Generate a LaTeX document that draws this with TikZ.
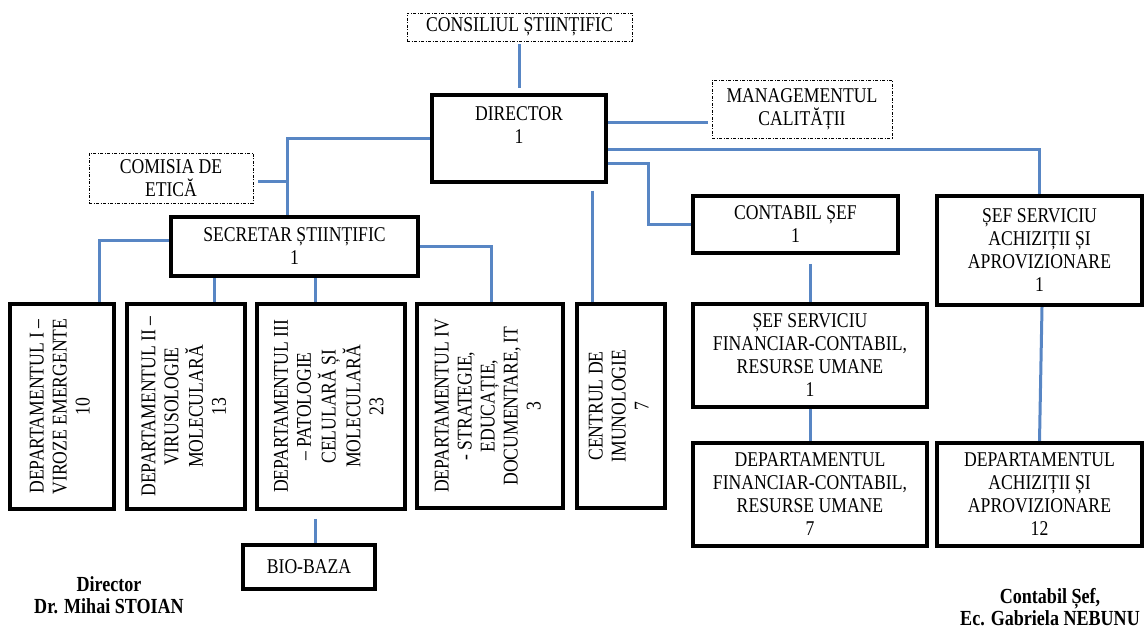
\documentclass[tikz,border=0pt]{standalone}
\usepackage{fontspec}
\usepackage{graphicx}
\setmainfont{Liberation Serif}[FakeStretch=0.84]
\usetikzlibrary{backgrounds}
\definecolor{connblue}{RGB}{88,134,196}
\newcommand{\rt}[1]{\rotatebox{90}{\begin{tabular}{@{}c@{}}#1\end{tabular}}}
\begin{document}
\begin{tikzpicture}[x=1pt,y=-1pt,
  boxfont/.style={font=\fontsize{21}{23}\selectfont},
  rotfont/.style={font=\fontsize{21}{23}\selectfont},
  orgbox/.style={draw=black,line width=3.5pt,fill=white,align=center,inner sep=1pt,boxfont},
  rotbox/.style={draw=black,line width=3.5pt,fill=white,inner sep=1pt,rotfont},
  dashbox/.style={draw=black,line width=0.9pt,fill=white,align=center,inner sep=1pt,boxfont,
    dash pattern=on 3pt off 1.5pt on 1pt off 1.5pt},
  conn/.style={draw=connblue,line width=3pt},
  signtext/.style={align=center,font=\fontsize{21.5}{22}\selectfont\bfseries,inner sep=0pt}]
\useasboundingbox (0,0) rectangle (1145,631);

% nodes
\node[dashbox,minimum width=225,minimum height=28] (cons) at (519.5,27) {CONSILIUL ȘTIINȚIFIC};
\node[orgbox,minimum width=174,minimum height=87] (dir) at (519,138.5) {\strut DIRECTOR\\\strut 1\\\strut};
\node[dashbox,minimum width=180,minimum height=58] (mgmt) at (802,109) {MANAGEMENTUL\\CALITĂȚII};
\node[dashbox,minimum width=164,minimum height=50] (com) at (171,178) {COMISIA DE\\ETICĂ};
\node[orgbox,minimum width=247,minimum height=59] (sec) at (294.5,246.5) {SECRETAR ȘTIINȚIFIC\\1};
\node[orgbox,minimum width=205,minimum height=57] (cont) at (795.5,224.5) {CONTABIL ȘEF\\1};
\node[orgbox,minimum width=205,minimum height=109] (ach) at (1039.5,250.5) {ȘEF SERVICIU\\ACHIZIȚII ȘI\\APROVIZIONARE\\1};
\node[rotbox,minimum width=104,minimum height=205] (d1) at (62,406.5) {\rt{DEPARTAMENTUL I –\\VIROZE EMERGENTE\\10}};
\node[rotbox,minimum width=118,minimum height=205] (d2) at (186,406.5) {\rt{DEPARTAMENTUL II –\\VIRUSOLOGIE\\MOLECULARĂ\\13}};
\node[rotbox,minimum width=148,minimum height=205] (d3) at (331,406.5) {\rt{DEPARTAMENTUL III\\– PATOLOGIE\\CELULARĂ ȘI\\MOLECULARĂ\\23}};
\node[rotbox,minimum width=146,minimum height=204] (d4) at (490,406) {\rt{DEPARTAMENTUL IV\\- STRATEGIE,\\EDUCAȚIE,\\DOCUMENTARE, IT\\3}};
\node[rotbox,minimum width=88,minimum height=204] (cen) at (621,406) {\rt{CENTRUL DE\\IMUNOLOGIE\\7}};
\node[orgbox,minimum width=234,minimum height=103] (sfin) at (810,355.5) {ȘEF SERVICIU\\FINANCIAR-CONTABIL,\\RESURSE UMANE\\1};
\node[orgbox,minimum width=234,minimum height=103] (dfin) at (810,494.5) {DEPARTAMENTUL\\FINANCIAR-CONTABIL,\\RESURSE UMANE\\7};
\node[orgbox,minimum width=205,minimum height=103] (dach) at (1039.5,494.5) {DEPARTAMENTUL\\ACHIZIȚII ȘI\\APROVIZIONARE\\12};
\node[orgbox,minimum width=132,minimum height=44] (bio) at (309,567) {BIO-BAZA};

\node[signtext] (sgn1) at (109,595) {Director\\Dr. Mihai STOIAN};
\node[signtext] (sgn2) at (1050,607) {Contabil Șef,\\Ec. Gabriela NEBUNU};

% connectors
\begin{pgfonlayer}{background}
\coordinate (jsec) at ([xshift=-7.5pt]sec.north);
\draw[conn,shorten <=3pt,shorten >=5pt] (cons.south) -- (cons.south |- dir.north);
\draw[conn] (dir.west) -| (jsec);
\draw[conn,shorten <=5pt] ([yshift=-4pt]com.east) -- ([yshift=-4pt]com.east -| jsec);
\draw[conn,shorten >=4pt] ([yshift=15.5pt]dir.east) -- ([yshift=15.5pt]dir.east -| mgmt.west);
\draw[conn] ([yshift=-11.5pt]dir.east) -| (ach.north);
\draw[conn] ([yshift=-25.5pt]dir.east) -| ([xshift=-43pt]cont.west) -- (cont.west);
\draw[conn,shorten <=7pt] ([xshift=73pt]dir.south) -- ([xshift=73pt]dir.south |- cen.north);
\draw[conn] ([yshift=6.5pt]sec.west) -| ([xshift=37pt]d1.north);
\draw[conn] ([xshift=28pt]d2.north |- sec.south) -- ([xshift=28pt]d2.north);
\draw[conn] ([xshift=-16pt]d3.north |- sec.south) -- ([xshift=-16pt]d3.north);
\draw[conn] (sec.east) -| ([xshift=1pt]d4.north);
\draw[conn,shorten <=8pt] ([xshift=-16pt]d3.south) -- ([xshift=-16pt]d3.south |- bio.north);
\draw[conn,shorten <=9pt] (sfin.north |- cont.south) -- (sfin.north);
\draw[conn] (sfin.south) -- (dfin.north);
\draw[conn] ([xshift=2.5pt]ach.south) -- (dach.north);
\end{pgfonlayer}
\end{tikzpicture}
\end{document}
